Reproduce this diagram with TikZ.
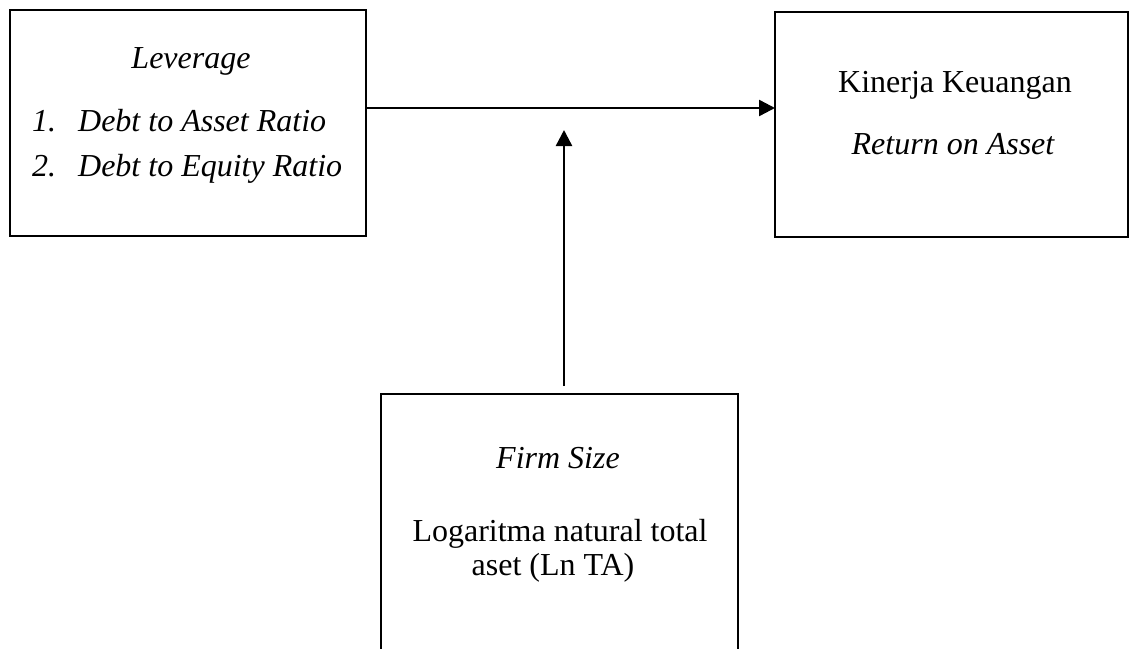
\documentclass[tikz,border=0pt]{standalone}
\usepackage{fontspec}
\setmainfont{Liberation Serif}
\usepackage{tikz}
\usetikzlibrary{arrows.meta}

\tikzset{
	box/.style={draw,line width=2.4pt,inner sep=0pt,outer sep=0pt},
	txt/.style={inner sep=0pt,anchor=base,font=\fontsize{32}{38}\selectfont},
	conn/.style={line width=2.4pt,-{Triangle[length=16pt,width=16pt]}}
}

\begin{document}
\begin{tikzpicture}[x=1pt,y=-1pt]
		\clip (0,0) rectangle (1129,648);
		\fill[white] (0,0) rectangle (1129,648);
		% the three boxes
		\node[box,minimum width=356pt,minimum height=226pt] (lev) at (188,123) {};
		\node[box,minimum width=353pt,minimum height=225pt] (kin) at (951.5,124.5) {};
		\node[box,minimum width=357pt,minimum height=306pt] (size) at (559.5,547) {};
		% texts
		\node[txt] (levt) at (191,68) {\itshape Leverage};
		\node[txt,anchor=base west] (dar) at (32,131) {\itshape\makebox[46pt][l]{1.}Debt to Asset Ratio};
		\node[txt,anchor=base west] (der) at (32,176) {\itshape\makebox[46pt][l]{2.}Debt to Equity Ratio};
		\node[txt] (kint) at (955,92) {Kinerja Keuangan};
		\node[txt] (roa) at (953,154) {\itshape Return on Asset};
		\node[txt] (sizet) at (558,468) {\itshape Firm Size};
		\node[txt] (ln1) at (560,541) {Logaritma natural total};
		\node[txt] (ln2) at (553,575) {aset (Ln TA)};
		% connectors
		\coordinate (h) at ([yshift=15pt]lev.east);
		\coordinate (join) at (564,130);
		\draw[conn] (h) -- (h -| kin.west);
		\draw[conn] ([yshift=8pt]size.north -| join) -- (join);
	\end{tikzpicture}
\end{document}
